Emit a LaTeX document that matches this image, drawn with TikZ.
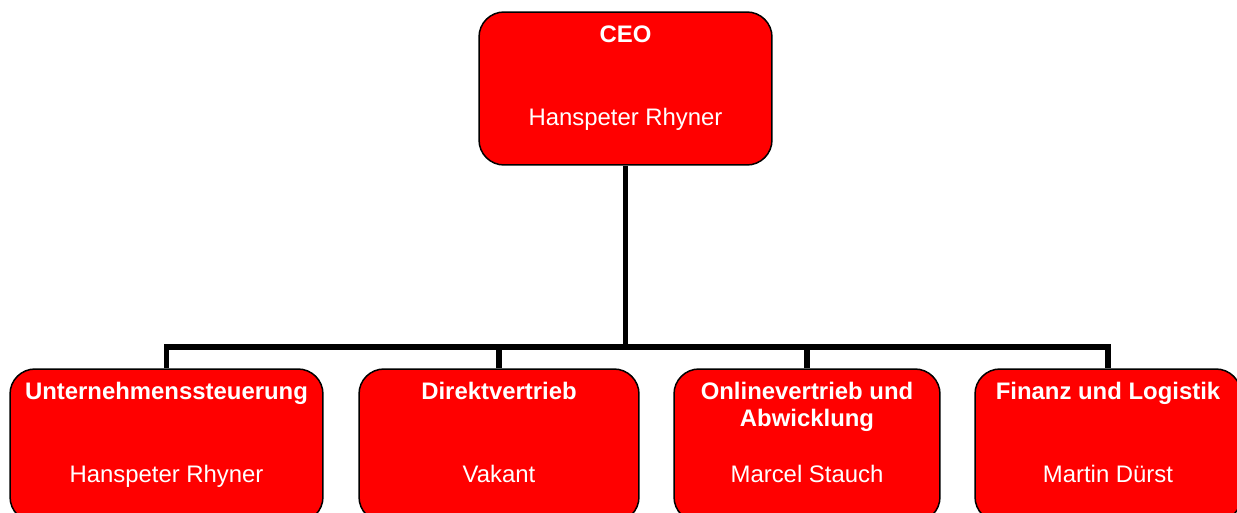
\documentclass[tikz,border=0pt]{standalone}
\usepackage{fontspec}
\setmainfont{Liberation Sans}
\begin{document}
\begin{tikzpicture}[x=0.02cm,y=-0.02cm,
    unit/.style={draw=black,line width=0.85pt,fill=\UNITCOLOR,rounded corners=0.5cm,minimum height=3.06cm,inner sep=0pt},
    unittitle/.style={white,font=\fontsize{13.6}{15.3}\selectfont\bfseries,align=center,anchor=base},
    unitname/.style={white,font=\fontsize{13.6}{15.3}\selectfont,anchor=base},
    link/.style={line width=3.1pt}]

\def\UNITCOLOR{red}
	\useasboundingbox (0,0) rectangle (1237,513);
	\clip (0,0) rectangle (1237,513);
	\node[unit,minimum width=5.86cm] (ceo) at (625.5,88.5) {};
	\node[unit,minimum width=6.26cm] (steuerung) at (166.5,445.5) {};
	\node[unit,minimum width=5.6cm] (direkt) at (499,445.5) {};
	\node[unit,minimum width=5.32cm] (online) at (807,445.5) {};
	\node[unit,minimum width=5.32cm] (finanz) at (1108,445.5) {};
	\coordinate (bus) at (625.5,347);
	\draw[link] (ceo.south) -- (bus);
	\draw[link] (steuerung.north) |- (bus -| finanz.north) -- (finanz.north);
	\draw[link] (direkt.north) -- (direkt.north |- bus);
	\draw[link] (online.north) -- (online.north |- bus);
	\node[unittitle] (ceotitle) at ([yshift=-0.63cm]ceo.north) {CEO};
	\node[unitname] (ceoname) at ([yshift=-2.29cm]ceo.north) {Hanspeter Rhyner};
	\node[unittitle] (steuerungtitle) at ([yshift=-0.63cm]steuerung.north) {Unternehmenssteuerung};
	\node[unitname] (steuerungname) at ([yshift=-2.29cm]steuerung.north) {Hanspeter Rhyner};
	\node[unittitle] (direkttitle) at ([yshift=-0.63cm]direkt.north) {Direktvertrieb};
	\node[unitname] (direktname) at ([yshift=-2.29cm]direkt.north) {Vakant};
	\node[unittitle] (onlinetitle) at ([yshift=-1.17cm]online.north) {Onlinevertrieb und\\Abwicklung};
	\node[unitname] (onlinename) at ([yshift=-2.29cm]online.north) {Marcel Stauch};
	\node[unittitle] (finanztitle) at ([yshift=-0.63cm]finanz.north) {Finanz und Logistik};
	\node[unitname] (finanzname) at ([yshift=-2.29cm]finanz.north) {Martin Dürst};

\end{tikzpicture}
\end{document}
